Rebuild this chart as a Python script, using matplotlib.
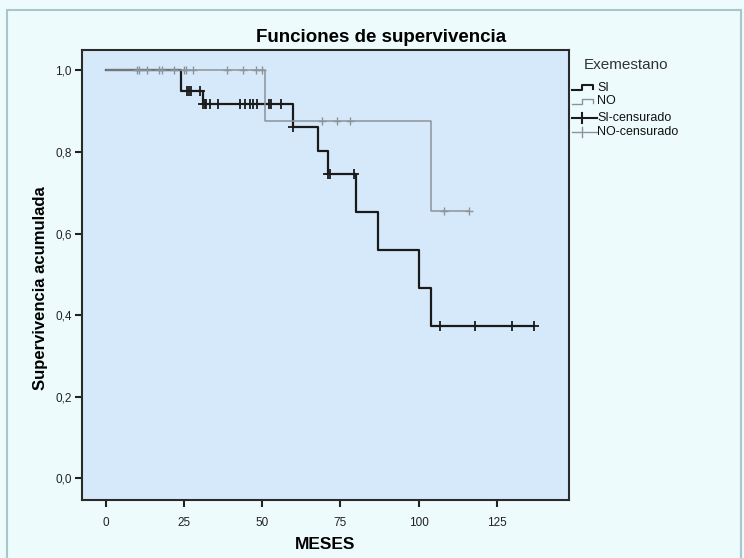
import numpy as np
import matplotlib
matplotlib.use('Agg')
import matplotlib.pyplot as plt
from matplotlib.lines import Line2D
from matplotlib.patches import Rectangle

plt.rcParams['font.family'] = ['Liberation Sans', 'DejaVu Sans']

# Kaplan-Meier curves
si_times = [0, 24, 31, 60, 68, 71, 80, 87, 100, 104, 137]
si_surv = [1.0, 0.950, 0.918, 0.861, 0.803, 0.746, 0.653, 0.560, 0.467, 0.373, 0.373]
si_cens = [25.9, 26.6, 27.1, 30.0, 31.2, 31.7, 32.2, 33.3, 36.0, 42.9, 44.5, 46.0,
           47.1, 48.2, 52.1, 52.9, 56.0, 60.0, 71.0, 71.8, 79.2, 107, 118, 130, 137]

no_times = [0, 51, 104, 116]
no_surv = [1.0, 0.875, 0.656, 0.656]
no_cens = [9.9, 10.7, 13.1, 17.1, 17.9, 21.8, 25.0, 25.6, 28.0, 38.8, 43.9, 48.0,
           49.8, 69.0, 74.0, 78.0, 108, 116]

xticks = [0, 25, 50, 75, 100, 125]
yticks = [0.0, 0.2, 0.4, 0.6, 0.8, 1.0]
ytick_labels = ['0,0', '0,2', '0,4', '0,6', '0,8', '1,0']

si_col = '#1a1a1a'
no_col = '#8d9499'


def surv_at(t, times, surv):
    idx = np.searchsorted(times, t, side='right') - 1
    return np.array(surv)[idx]


W, H = 744, 558
fig = plt.figure(figsize=(W / 100, H / 100), dpi=100)
fig.patch.set_facecolor('#eefbfc')


def px(x, y):
    return x / W, 1 - y / H


# outer frame of the chart
fig.patches.append(Rectangle(px(7, 600), (W - 10) / W, 590 / H, transform=fig.transFigure,
                             fill=False, edgecolor='#a9c6cb', linewidth=1.5))

ax = fig.add_axes([81.7 / W, 1 - 500 / H, 487 / W, 450 / H])
ax.set_facecolor('#d6e9fb')

ax.step(si_times, si_surv, where='post', color=si_col, linewidth=1.6, zorder=3)
ax.plot(si_cens, surv_at(si_cens, si_times, si_surv), linestyle='none', marker='+',
        markersize=7, markeredgewidth=1.3, color=si_col, zorder=4)
ax.step(no_times, no_surv, where='post', color=no_col, linewidth=1.1, zorder=5)
ax.plot(no_cens, surv_at(no_cens, no_times, no_surv), linestyle='none', marker='+',
        markersize=6, markeredgewidth=1.0, color=no_col, zorder=6)

ax.set_xlim(-7.7, 148)
ax.set_ylim(-0.053, 1.05)
ax.set_xticks(xticks)
ax.set_yticks(yticks)
ax.set_yticklabels(ytick_labels)
ax.tick_params(axis='both', direction='out', length=5, width=1.5, color='#222222',
               labelsize=8.5, labelcolor='#222222', pad=2)
ax.tick_params(axis='x', pad=7)
for sp in ax.spines.values():
    sp.set_linewidth(1.5)
    sp.set_color('#2a2a2a')

# title is centred over the whole chart, not just the plot area
fig.text(*px(381, 37), 'Funciones de supervivencia', fontsize=13.5, fontweight='bold',
         ha='center', va='center')
ax.set_xlabel('MESES', fontsize=12.5, fontweight='bold')
ax.set_ylabel('Supervivencia acumulada', fontsize=12, fontweight='bold')
ax.xaxis.set_label_coords(0.5, -0.083)
ax.yaxis.set_label_coords(-0.07, 0.47)

# legend drawn at the right of the plot
fig.text(*px(584, 65), 'Exemestano', fontsize=11, color='#333333', va='center')
entries = [('SI', si_col, 1.5, 'step'), ('NO', no_col, 1.0, 'step'),
           ('SI-censurado', si_col, 1.5, 'cens'), ('NO-censurado', no_col, 1.0, 'cens')]
ys = [88, 101.5, 118, 132]
for (lab, col, lw, kind), y in zip(entries, ys):
    if kind == 'step':
        xs = [572, 582, 582, 593, 593]
        yy = [y + 2, y + 2, y - 3, y - 3, y + 1]
    else:
        xs = [572, 597]
        yy = [y, y]
    fx, fy = zip(*[px(a, b) for a, b in zip(xs, yy)])
    fig.lines.append(Line2D(fx, fy, color=col, linewidth=lw, transform=fig.transFigure))
    if kind == 'cens':
        fx, fy = zip(*[px(582, y - 5), px(582, y + 5)])
        fig.lines.append(Line2D(fx, fy, color=col, linewidth=lw, transform=fig.transFigure))
    fig.text(*px(597, y), lab, fontsize=9, color='#111111', va='center')

fig.savefig('out.png', dpi=100, facecolor=fig.get_facecolor())
